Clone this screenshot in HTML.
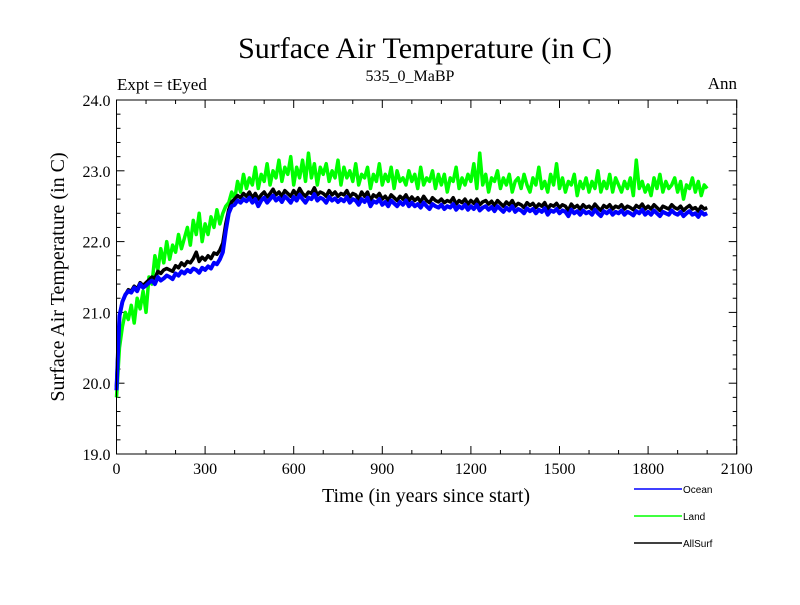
<!DOCTYPE html>
<html><head><meta charset="utf-8"><style>
body{margin:0;background:#fff}
svg text{font-family:"Liberation Serif",serif}
</style></head><body>
<svg id="c" width="800" height="600" xmlns="http://www.w3.org/2000/svg">
<rect width="800" height="600" fill="#fff"/>
<text x="425" y="58" font-size="30" text-anchor="middle">Surface Air Temperature (in C)</text>
<text x="117" y="90" font-size="17">Expt = tEyed</text>
<text x="410" y="81" font-size="16" text-anchor="middle">535_0_MaBP</text>
<text x="737" y="89" font-size="17" text-anchor="end">Ann</text>
<text transform="translate(64,277) rotate(-90)" font-size="20" text-anchor="middle">Surface Air Temperature (in C)</text>
<text x="426" y="502" font-size="20" text-anchor="middle">Time (in years since start)</text>
<g id="ticks"></g>
<g id="series"></g>
<rect x="116.5" y="100" width="620.2" height="354" fill="none" stroke="#000" stroke-width="1"/>
<g font-family="Liberation Sans,sans-serif" font-size="10">
<g><line x1="634" y1="489" x2="682" y2="489" stroke="#0000ff" stroke-width="1.5"/><text x="683" y="493" style="font-family:'Liberation Sans',sans-serif">Ocean</text></g>
<g><line x1="634" y1="516" x2="682" y2="516" stroke="#00ff00" stroke-width="1.5"/><text x="683" y="520" style="font-family:'Liberation Sans',sans-serif">Land</text></g>
<g><line x1="634" y1="543" x2="682" y2="543" stroke="#000" stroke-width="1.5"/><text x="683" y="547" style="font-family:'Liberation Sans',sans-serif">AllSurf</text></g>
</g>
</svg>
<script>
const years0 = 0, yearStep = 10;
const xTicks = [0,300,600,900,1200,1500,1800,2100];
const yTicks = ["19.0","20.0","21.0","22.0","23.0","24.0"];
const ocean = [
19.9,20.95,21.15,21.25,21.3,21.28,21.35,21.3,21.4,21.35,
21.38,21.42,21.45,21.4,21.5,21.45,21.48,21.52,21.5,21.47,
21.55,21.52,21.58,21.55,21.6,21.57,21.62,21.6,21.56,21.63,
21.6,21.65,21.62,21.7,21.68,21.75,21.85,22.15,22.4,22.5,
22.52,22.58,22.55,22.6,22.57,22.62,22.55,22.6,22.5,22.58,
22.62,22.55,22.6,22.65,22.58,22.62,22.56,22.64,22.6,22.55,
22.63,22.58,22.66,22.6,22.55,22.62,22.6,22.67,22.58,22.62,
22.6,22.55,22.63,22.58,22.61,22.56,22.6,22.57,22.63,22.55,
22.6,22.58,22.52,22.6,22.56,22.62,22.5,22.57,22.55,22.6,
22.52,22.56,22.5,22.58,22.54,22.5,22.56,22.52,22.58,22.5,
22.55,22.5,22.53,22.48,22.55,22.5,22.46,22.53,22.5,22.48,
22.52,22.46,22.5,22.48,22.53,22.45,22.5,22.47,22.52,22.45,
22.5,22.46,22.52,22.44,22.48,22.5,22.45,22.49,22.43,22.5,
22.46,22.42,22.48,22.44,22.5,22.42,22.46,22.44,22.4,22.47,
22.43,22.46,22.4,22.45,22.42,22.47,22.38,22.44,22.42,22.46,
22.4,22.44,22.42,22.36,22.45,22.4,22.43,22.38,22.44,22.4,
22.42,22.38,22.45,22.4,22.36,22.43,22.4,22.44,22.38,22.42,
22.4,22.44,22.38,22.42,22.4,22.37,22.43,22.4,22.45,22.38,
22.42,22.38,22.44,22.4,22.36,22.42,22.4,22.38,22.44,22.4,
22.38,22.42,22.36,22.4,22.43,22.38,22.4,22.35,22.42,22.38,
22.4];
const allSurf = [
19.95,20.95,21.15,21.25,21.32,21.3,21.37,21.33,21.42,21.38,
21.42,21.46,21.5,21.48,21.58,21.55,21.6,21.62,21.6,21.58,
21.66,21.63,21.7,21.66,21.72,21.7,21.76,21.85,21.72,21.78,
21.74,21.8,21.76,21.84,21.82,21.88,21.98,22.25,22.45,22.56,
22.6,22.65,22.62,22.68,22.64,22.7,22.62,22.68,22.6,22.66,
22.7,22.63,22.68,22.74,22.66,22.7,22.64,22.72,22.68,22.64,
22.72,22.66,22.75,22.68,22.64,22.7,22.68,22.76,22.66,22.7,
22.68,22.64,22.72,22.66,22.7,22.64,22.68,22.66,22.72,22.63,
22.68,22.66,22.6,22.7,22.64,22.7,22.58,22.66,22.63,22.68,
22.6,22.64,22.58,22.66,22.62,22.58,22.64,22.6,22.66,22.58,
22.63,22.58,22.62,22.56,22.64,22.58,22.55,22.62,22.58,22.56,
22.6,22.55,22.58,22.56,22.62,22.53,22.58,22.55,22.6,22.53,
22.58,22.54,22.6,22.52,22.56,22.58,22.53,22.57,22.51,22.58,
22.54,22.5,22.56,22.52,22.58,22.5,22.54,22.52,22.48,22.55,
22.51,22.54,22.48,22.53,22.5,22.55,22.46,22.52,22.5,22.54,
22.48,22.52,22.5,22.44,22.53,22.48,22.51,22.46,22.52,22.48,
22.5,22.46,22.53,22.48,22.44,22.51,22.48,22.52,22.46,22.5,
22.48,22.52,22.46,22.5,22.48,22.45,22.51,22.48,22.53,22.46,
22.5,22.46,22.52,22.48,22.44,22.5,22.48,22.46,22.52,22.48,
22.46,22.5,22.44,22.48,22.51,22.46,22.48,22.43,22.5,22.46,
22.48];
const land = [
19.8,20.5,20.8,21.0,20.9,21.1,20.85,21.2,21.05,21.3,
21.0,21.5,21.4,21.8,21.6,21.9,21.7,22.0,21.75,21.95,
21.85,22.1,21.9,22.05,22.2,21.95,22.3,22.1,22.4,22.0,
22.25,22.1,22.35,22.2,22.45,22.25,22.4,22.5,22.55,22.7,
22.6,22.85,22.7,22.95,22.75,22.9,22.8,23.05,22.75,22.95,
22.85,23.1,22.8,23.0,22.9,23.15,22.85,23.05,22.95,23.2,
22.8,23.05,22.9,23.15,22.85,23.25,22.9,23.1,22.8,23.05,
22.95,23.1,22.85,23.0,22.9,23.15,22.8,23.05,22.9,23.0,
22.85,23.1,22.8,22.95,22.9,23.05,22.75,22.95,22.85,23.1,
22.8,22.95,22.85,23.05,22.75,23.0,22.85,22.9,22.8,23.0,
22.85,22.95,22.75,23.05,22.8,22.9,22.85,23.0,22.75,22.95,
22.8,22.95,22.7,22.9,22.85,23.05,22.75,22.9,22.8,22.95,
22.85,23.1,22.75,23.25,22.8,22.95,22.7,22.9,22.85,23.0,
22.75,22.9,22.8,22.95,22.7,22.85,22.9,22.75,22.95,22.8,
22.7,22.9,22.8,23.05,22.75,22.85,22.7,22.95,22.8,23.1,
22.75,22.9,22.7,22.85,22.8,22.95,22.65,22.85,22.75,22.9,
22.7,22.85,22.75,23.0,22.7,22.85,22.75,22.95,22.7,22.9,
22.8,22.7,22.85,22.75,22.9,22.65,23.15,22.75,22.85,22.7,
22.8,22.65,22.9,22.75,22.95,22.7,22.85,22.75,22.8,22.9,
22.7,22.85,22.6,22.8,22.75,22.9,22.7,22.85,22.65,22.8,
22.75];

const X0=116.5, X1=736.7, Y0=454, Y1=100;
const xS = v => X0 + (v-0)/(2100-0)*(X1-X0);
const yS = v => Y0 - (v-19)/(24-19)*(Y0-Y1);
const NS="http://www.w3.org/2000/svg";
const tg=document.getElementById('ticks');
function ln(x1,y1,x2,y2){const l=document.createElementNS(NS,'line');l.setAttribute('x1',x1);l.setAttribute('y1',y1);l.setAttribute('x2',x2);l.setAttribute('y2',y2);l.setAttribute('stroke','#000');l.setAttribute('stroke-width','1');


tg.appendChild(l);}
for(let v=0;v<=2100;v+=100){const x=xS(v);const L=(v%300===0)?8:4;ln(x,Y0,x,Y0-L);ln(x,Y1,x,Y1+L);}
for(let k=0;k<=25;k++){const v=19+k*0.2;const y=yS(v);const L=(k%5===0)?8:4;ln(X0,y,X0+L,y);ln(X1,y,X1-L,y);}
xTicks.forEach(v=>{const t=document.createElementNS(NS,'text');t.setAttribute('x',xS(v));t.setAttribute('y',Y0+20);t.setAttribute('font-size','16');t.setAttribute('text-anchor','middle');t.textContent=v;


tg.appendChild(t);});
yTicks.forEach(s=>{const t=document.createElementNS(NS,'text');t.setAttribute('x',X0-6);t.setAttribute('y',yS(parseFloat(s))+6);t.setAttribute('font-size','16');t.setAttribute('text-anchor','end');t.textContent=s;


tg.appendChild(t);});
const sg=document.getElementById('series');
function draw(arr,color,w,name){const p=document.createElementNS(NS,'polyline');
p.setAttribute('points',arr.map((v,i)=>xS(years0+i*yearStep).toFixed(2)+','+yS(v).toFixed(2)).join(' '));
p.setAttribute('fill','none');p.setAttribute('stroke',color);p.setAttribute('stroke-width',w);p.setAttribute('stroke-linejoin','round');


sg.appendChild(p);}
draw(land,'#00ff00',3.5,'land-line');
draw(allSurf,'#000000',3.5,'allsurf-line');
draw(ocean,'#0000ff',4,'ocean-line');
</script>
</body></html>
